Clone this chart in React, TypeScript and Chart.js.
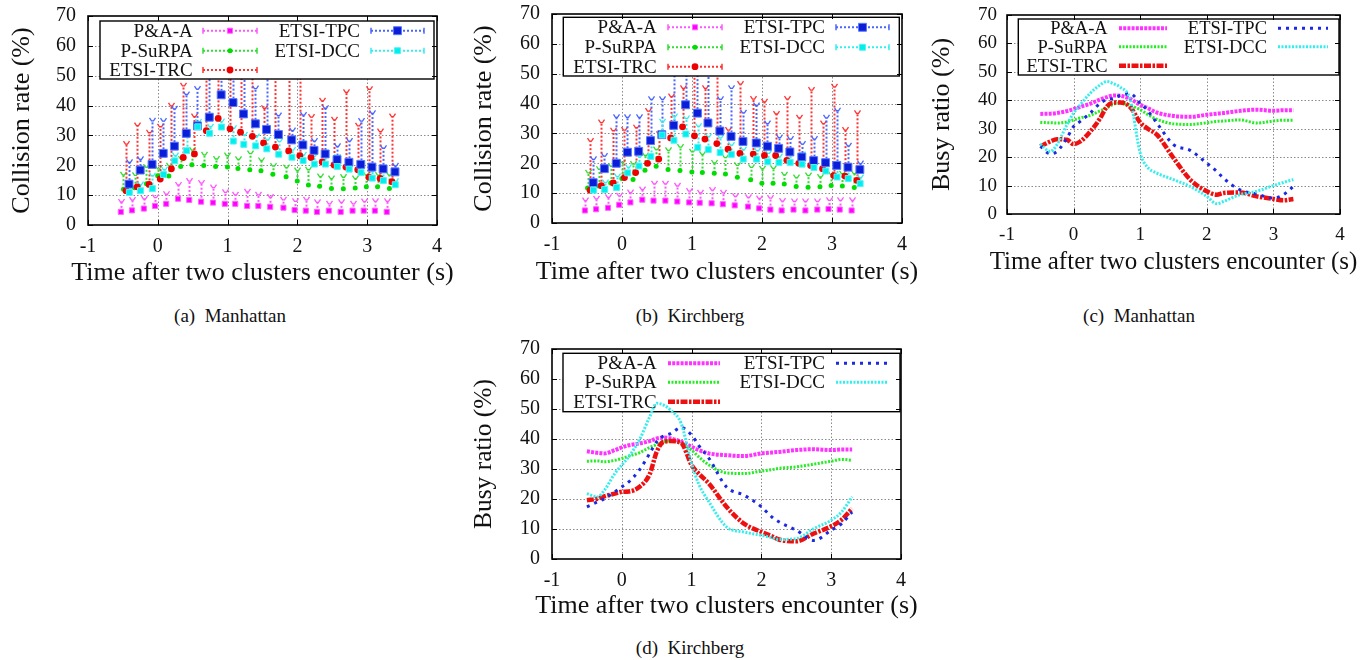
import React, { useEffect, useRef } from "react";
import { Chart, registerables } from "chart.js";

Chart.register(...registerables);

const SERIF = "'Liberation Serif', 'Times New Roman', Times, serif";

// ---------- text ----------
const SERIES_NAMES = ["P&A-A", "P-SuRPA", "ETSI-TRC", "ETSI-TPC", "ETSI-DCC"];
const X_TITLE = "Time after two clusters encounter (s)";
const Y_TITLE_COLLISION = "Collision rate (%)";
const Y_TITLE_BUSY = "Busy ratio (%)";
const CAPTIONS = ["(a)  Manhattan", "(b)  Kirchberg", "(c)  Manhattan", "(d)  Kirchberg"];

// ---------- axes ----------
const X_MIN = -1;
const X_MAX = 4;
const X_STEP = 1;
const Y_MIN = 0;
const Y_MAX = 70;
const Y_STEP = 10;

// ---------- collision-rate samples (panels a, b) ----------
const SAMPLE_TIMES = [
  -0.53, -0.37, -0.2, -0.04, 0.12, 0.29, 0.45, 0.62, 0.79, 0.96, 1.11, 1.28,
  1.44, 1.61, 1.8, 1.96, 2.12, 2.28, 2.45, 2.62, 2.79, 2.95, 3.11, 3.28,
];
const SERIES_SHIFT = [0, 0.038, 0.075, 0.118, 0.122];

// (a) Manhattan
const aPAA = [4.4, 4.9, 5.5, 6.4, 7.1, 8.8, 8.4, 7.8, 7.5, 7.1, 7.1, 6.4, 6.4, 6.1, 5.8, 5.0, 4.8, 4.4, 4.8, 4.4, 4.8, 4.8, 4.8, 4.4];
const aPAAHi = [7.7, 8.3, 8.7, 9.2, 10.3, 13.4, 14.7, 14.0, 12.5, 10.9, 10.1, 11.1, 10.1, 9.3, 8.4, 7.9, 8.4, 7.6, 7.1, 7.6, 7.1, 7.8, 7.9, 7.9];
const aSURPA = [12.0, 12.5, 13.8, 16.5, 16.4, 19.6, 20.2, 19.9, 19.6, 19.4, 18.9, 18.5, 18.2, 17.0, 16.2, 14.7, 13.4, 13.0, 12.2, 12.1, 12.4, 12.8, 12.8, 12.2];
const aSURPAHi = [16.8, 16.6, 19.4, 18.8, 19.8, 22.1, 25.1, 23.5, 22.1, 23.2, 22.0, 23.9, 21.6, 19.7, 19.2, 18.2, 18.5, 16.2, 15.5, 16.0, 15.5, 16.7, 16.7, 16.7];
const aTRC = [11.5, 12.8, 13.6, 15.4, 18.8, 22.6, 23.8, 31.6, 35.7, 32.2, 31.1, 29.7, 27.5, 26.1, 24.8, 23.2, 22.6, 21.1, 20.1, 19.4, 18.5, 16.0, 15.6, 14.5];
const aTRCHi = [27.1, 33.3, 30.9, 32.9, 39.9, 46.6, 36.3, 56, 56, 56, 56, 56, 39.1, 56, 56, 56, 36.1, 41.6, 35.2, 44.4, 33.2, 45.4, 31.3, 36.3];
const aTPC = [13.7, 18.4, 20.3, 24.0, 26.4, 30.7, 33.2, 36.1, 43.6, 41.0, 37.2, 33.9, 32.0, 30.3, 28.5, 26.8, 25.0, 23.8, 21.9, 21.0, 20.3, 19.4, 18.8, 17.8];
const aTPCHi = [21.0, 22.0, 34.9, 34.8, 38.9, 43.7, 45.5, 56, 56, 56, 56, 45.7, 56, 36.6, 31.6, 36.8, 28.1, 39.1, 26.3, 28.1, 34.8, 37.4, 25.7, 19.8];
const aDCC = [10.9, 11.5, 12.2, 16.9, 21.5, 24.9, 32.9, 30.7, 32.8, 28.1, 27.0, 26.5, 25.5, 23.7, 22.7, 21.6, 20.4, 20.4, 19.6, 18.7, 17.6, 15.7, 14.9, 13.5];
const aDCCHi = [12.7, 13.5, 16.5, 18.5, 23.2, 29.4, 34.5, 32.9, 34.6, 32.4, 30.2, 29.6, 28.5, 27.9, 25.1, 23.5, 23.1, 23.7, 22.7, 20.5, 19.8, 17.9, 18.5, 14.6];

// (b) Kirchberg
const bPAA = [4.2, 4.6, 5.1, 6.1, 6.9, 7.8, 7.5, 7.5, 7.2, 6.9, 6.8, 6.6, 6.3, 5.9, 5.5, 4.9, 4.5, 4.2, 4.5, 4.2, 4.5, 4.7, 4.5, 4.2];
const bPAAHi = [7.5, 8.1, 8.6, 9.1, 10.2, 11.2, 13.1, 13.1, 12.4, 10.7, 10.1, 11.0, 10.1, 8.9, 8.6, 8.2, 8.3, 7.3, 7.2, 7.2, 7.2, 7.6, 7.6, 7.6];
const bSURPA = [11.7, 12.4, 13.4, 14.9, 14.6, 17.7, 19.0, 17.9, 17.6, 17.1, 16.9, 16.7, 16.4, 15.3, 14.5, 13.3, 13.3, 13.1, 12.2, 12.0, 12.1, 12.6, 12.4, 11.9];
const bSURPAHi = [16.8, 18.0, 19.0, 20.2, 19.7, 22.6, 24.6, 24.3, 25.4, 23.8, 23.0, 20.1, 21.9, 19.3, 18.6, 18.1, 18.3, 16.1, 15.2, 15.9, 15.4, 16.2, 16.5, 16.5];
const bTRC = [11.0, 12.5, 13.4, 15.2, 16.9, 20.0, 21.4, 28.5, 32.2, 29.2, 28.1, 26.6, 24.7, 23.3, 23.1, 22.6, 22.6, 21.0, 20.0, 19.3, 18.2, 15.9, 15.7, 14.3];
const bTRCHi = [27.4, 33.6, 30.9, 31.1, 31.9, 37.5, 29.7, 42.3, 45.1, 56, 45.1, 56, 31.1, 46.5, 41.5, 40.6, 36.5, 41.5, 35.2, 44.5, 33.3, 45.6, 31.1, 36.7];
const bTPC = [13.5, 18.2, 20.0, 23.7, 24.0, 27.6, 29.6, 32.7, 39.6, 36.8, 33.5, 30.8, 29.0, 27.3, 26.8, 25.7, 25.0, 23.8, 22.1, 20.9, 20.2, 19.3, 18.7, 17.9];
const bTPCHi = [21.3, 22.4, 35.4, 35.4, 35.4, 41.4, 41.4, 56, 56, 56, 56, 41.4, 45.1, 36.9, 39.3, 33.3, 28.6, 28.1, 26.4, 28.1, 35.2, 37.6, 25.8, 19.9];
const bDCC = [11.0, 11.2, 11.9, 16.8, 19.1, 22.3, 29.5, 27.7, 29.8, 25.3, 24.6, 23.6, 23.0, 21.4, 21.4, 20.5, 20.3, 20.3, 19.7, 18.6, 17.4, 15.4, 14.9, 13.2];
const bDCCHi = [12.8, 13.5, 15.5, 18.6, 22.1, 27.2, 33.9, 35.6, 35.0, 32.4, 28.9, 28.5, 26.1, 24.6, 24.2, 23.3, 22.2, 22.9, 22.9, 20.5, 19.7, 18.2, 18.2, 15.2];

// ---------- busy-ratio curves (panels c, d) ----------
const LINE_TIMES = [
  -0.5, -0.35, -0.25, -0.1, 0, 0.1, 0.25, 0.4, 0.5, 0.6, 0.7, 0.85, 1.0,
  1.1, 1.25, 1.5, 1.75, 2.0, 2.15, 2.25, 2.5, 2.75, 3.0, 3.15, 3.3,
];

// (c) Manhattan
const cPAA = [35.2, 35.3, 35.5, 36.2, 36.9, 37.7, 38.8, 40.3, 41.1, 41.7, 41.6, 40.5, 38.4, 37.4, 35.7, 34.5, 34.2, 34.9, 35.3, 35.5, 36.3, 36.7, 36.3, 36.5, 36.5];
const cSURPA = [32.2, 32.1, 32.0, 32.4, 33.1, 33.8, 34.7, 36.3, 37.3, 38.6, 39.0, 38.2, 36.7, 35.2, 33.3, 31.7, 31.5, 32.1, 32.6, 32.7, 33.1, 32.0, 32.7, 33.0, 33.0];
const cTRC = [23.8, 25.5, 26.3, 26.1, 24.6, 25.5, 29.0, 33.7, 37.8, 39.2, 39.2, 37.6, 32.2, 30.2, 27.9, 19.7, 12.1, 8.0, 6.8, 7.4, 7.6, 6.2, 5.3, 4.8, 5.3];
const cTPC = [23.8, 21.2, 22.0, 26.7, 30.8, 32.6, 35.5, 39.0, 40.2, 40.7, 41.7, 42.3, 39.0, 36.7, 32.0, 24.4, 22.4, 17.9, 15.0, 12.6, 8.5, 7.0, 5.6, 6.8, 9.7];
const cDCC = [24.6, 22.0, 24.4, 31.4, 35.5, 38.4, 42.5, 45.4, 46.6, 45.8, 44.6, 40.2, 21.4, 16.7, 14.4, 12.1, 9.7, 6.2, 3.6, 4.4, 6.8, 8.0, 10.0, 11.1, 12.1];

// (d) Kirchberg
const dPAA = [35.9, 35.4, 35.2, 36.3, 37.2, 37.9, 38.5, 39.3, 40.2, 40.5, 40.2, 39.1, 37.4, 36.3, 35.2, 34.6, 34.3, 35.2, 35.5, 35.7, 36.3, 36.6, 36.3, 36.5, 36.5];
const dSURPA = [32.6, 32.7, 32.4, 32.9, 33.5, 34.3, 35.4, 37.2, 38.2, 39.1, 39.3, 38.5, 36.3, 34.1, 31.3, 28.7, 28.5, 29.3, 29.8, 30.2, 30.7, 31.6, 32.6, 33.2, 32.9];
const dTRC = [19.6, 20.1, 20.9, 21.8, 22.4, 22.5, 24.0, 28.3, 35.7, 39.1, 39.3, 38.7, 31.3, 28.5, 25.1, 17.4, 11.8, 9.0, 7.6, 6.5, 5.9, 8.5, 10.9, 13.1, 16.8];
const dTPC = [17.4, 19.0, 20.1, 22.4, 24.0, 25.7, 29.6, 35.2, 39.1, 41.0, 41.8, 43.8, 41.3, 37.9, 33.5, 24.0, 21.3, 17.4, 14.0, 12.4, 9.6, 6.2, 9.6, 11.8, 15.7];
const dDCC = [21.8, 20.7, 22.9, 28.5, 31.3, 34.1, 39.6, 47.4, 51.9, 51.3, 49.6, 45.2, 31.8, 25.1, 19.0, 10.7, 9.0, 7.9, 7.1, 6.5, 6.8, 10.1, 12.9, 15.7, 20.7];

// ---------- styles ----------
const MARKER_STYLES = [
  { color: "#ff00ff", edge: "#ff66ff", bar: "#ff55ff", shape: "rect", r: 3.6 },
  { color: "#00dd00", edge: "#00dd00", bar: "#33dd33", shape: "circle", r: 2.5 },
  { color: "#ee0000", edge: "#ee0000", bar: "#ff3333", shape: "circle", r: 3.4 },
  { color: "#0a1ed8", edge: "#5a78ff", bar: "#4a66ff", shape: "rect", r: 5.6 },
  { color: "#00eeee", edge: "#55f4f4", bar: "#33eeee", shape: "rect", r: 4.2 },
];
const LINE_STYLES = [
  { color: "#ff33ff", width: 4, dash: [3, 1.2] },
  { color: "#22ee22", width: 3, dash: [2, 1.5] },
  { color: "#ee1010", width: 4.5, dash: [7, 1.5, 2.5, 1.5] },
  { color: "#1a2ae0", width: 3, dash: [3, 5] },
  { color: "#33eeee", width: 3, dash: [2, 1.5] },
];

function collisionDatasets(values: number[][], uppers: number[][]) {
  return values.map((vals, i) => {
    const st = MARKER_STYLES[i];
    return {
      label: SERIES_NAMES[i],
      data: vals.map((v, k) => ({ x: SAMPLE_TIMES[k] + SERIES_SHIFT[i], y: v })),
      upper: uppers[i],
      barColor: st.bar,
      markerShape: st.shape,
      showLine: false,
      pointStyle: st.shape,
      pointRadius: st.r,
      pointHoverRadius: st.r,
      pointBackgroundColor: st.color,
      pointBorderColor: st.edge,
      pointBorderWidth: i === 3 || i === 4 || i === 0 ? 1 : 0,
      backgroundColor: st.color,
      borderColor: st.color,
      order: 4 - i,
    };
  });
}

function busyDatasets(values: number[][]) {
  return values.map((vals, i) => {
    const st = LINE_STYLES[i];
    return {
      label: SERIES_NAMES[i],
      data: vals.map((v, k) => ({ x: LINE_TIMES[k], y: v })),
      showLine: true,
      cubicInterpolationMode: "monotone",
      pointRadius: 0,
      pointHoverRadius: 0,
      borderColor: st.color,
      backgroundColor: st.color,
      borderWidth: st.width,
      borderDash: st.dash,
      borderCapStyle: "butt",
      fill: false,
      order: 4 - i,
    };
  });
}

// ---------- plugins ----------
const gridFramePlugin = {
  id: "gridFrame",
  beforeDatasetsDraw(chart: any) {
    const { ctx, chartArea: a, scales } = chart;
    ctx.save();
    ctx.strokeStyle = "#8a8a8a";
    ctx.lineWidth = 1;
    ctx.setLineDash([1.5, 2]);
    scales.x.ticks.forEach((t: any) => {
      if (t.value <= X_MIN || t.value >= X_MAX) return;
      const px = Math.round(scales.x.getPixelForValue(t.value)) + 0.5;
      ctx.beginPath();
      ctx.moveTo(px, a.top);
      ctx.lineTo(px, a.bottom);
      ctx.stroke();
    });
    scales.y.ticks.forEach((t: any) => {
      if (t.value <= Y_MIN || t.value >= Y_MAX) return;
      const py = Math.round(scales.y.getPixelForValue(t.value)) + 0.5;
      ctx.beginPath();
      ctx.moveTo(a.left, py);
      ctx.lineTo(a.right, py);
      ctx.stroke();
    });
    ctx.restore();
  },
  afterDraw(chart: any) {
    const { ctx, chartArea: a, scales } = chart;
    ctx.save();
    ctx.strokeStyle = "#000";
    ctx.lineWidth = 1;
    const tl = 5;
    scales.x.ticks.forEach((t: any) => {
      const px = Math.round(scales.x.getPixelForValue(t.value)) + 0.5;
      ctx.beginPath();
      ctx.moveTo(px, a.bottom);
      ctx.lineTo(px, a.bottom - tl);
      ctx.moveTo(px, a.top);
      ctx.lineTo(px, a.top + tl);
      ctx.stroke();
    });
    scales.y.ticks.forEach((t: any) => {
      const py = Math.round(scales.y.getPixelForValue(t.value)) + 0.5;
      ctx.beginPath();
      ctx.moveTo(a.left, py);
      ctx.lineTo(a.left + tl, py);
      ctx.moveTo(a.right, py);
      ctx.lineTo(a.right - tl, py);
      ctx.stroke();
    });
    ctx.lineWidth = 1.6;
    ctx.strokeRect(a.left, a.top, a.right - a.left, a.bottom - a.top);
    ctx.restore();
  },
};

const errorBarPlugin = {
  id: "errorBars",
  beforeDatasetsDraw(chart: any) {
    const { ctx, chartArea: a, scales } = chart;
    ctx.save();
    ctx.beginPath();
    ctx.rect(a.left, a.top, a.right - a.left, a.bottom - a.top);
    ctx.clip();
    chart.data.datasets.forEach((ds: any) => {
      if (!ds.upper) return;
      ctx.strokeStyle = ds.barColor;
      ds.data.forEach((p: any, k: number) => {
        const px = Math.round(scales.x.getPixelForValue(p.x)) + 0.5;
        const py = scales.y.getPixelForValue(p.y);
        const pu = scales.y.getPixelForValue(ds.upper[k]);
        ctx.lineWidth = 2;
        ctx.setLineDash([2, 2]);
        ctx.beginPath();
        ctx.moveTo(px, py);
        ctx.lineTo(px, pu);
        ctx.stroke();
        ctx.setLineDash([]);
        ctx.lineWidth = 1.3;
        ctx.beginPath();
        ctx.moveTo(px - 3, pu - 3);
        ctx.lineTo(px - 1, pu);
        ctx.lineTo(px + 1, pu);
        ctx.lineTo(px + 3, pu - 3);
        ctx.stroke();
      });
    });
    ctx.restore();
  },
};

type TitleSpec = { xSize: number; xY: number; ySize: number; yX: number; yText: string };

function makeTitlePlugin(t: TitleSpec) {
  return {
    id: "axisTitles",
    afterDraw(chart: any) {
      const { ctx, chartArea: a } = chart;
      ctx.save();
      ctx.fillStyle = "#111";
      ctx.textAlign = "center";
      ctx.textBaseline = "middle";
      ctx.font = `${t.xSize}px ${SERIF}`;
      ctx.fillText(X_TITLE, (a.left + a.right) / 2, t.xY);
      ctx.translate(t.yX, (a.top + a.bottom) / 2);
      ctx.rotate(-Math.PI / 2);
      ctx.font = `${t.ySize}px ${SERIF}`;
      ctx.fillText(t.yText, 0, 0);
      ctx.restore();
    },
  };
}

type LegendSpec = {
  box: [number, number, number, number];
  rows: number[];
  cols: { textRight: number; s0: number; s1: number }[];
  fontSize: number;
  kind: "marker" | "line";
  onTop: boolean;
};

function drawMarker(ctx: CanvasRenderingContext2D, ds: any, x: number, y: number) {
  const r = ds.pointRadius;
  ctx.fillStyle = ds.pointBackgroundColor;
  ctx.strokeStyle = ds.pointBorderColor;
  ctx.lineWidth = ds.pointBorderWidth;
  ctx.beginPath();
  if (ds.markerShape === "rect") {
    const s = r * Math.SQRT1_2;
    ctx.rect(x - s, y - s, 2 * s, 2 * s);
  } else {
    ctx.arc(x, y, r, 0, Math.PI * 2);
  }
  ctx.fill();
  if (ds.pointBorderWidth) ctx.stroke();
}

function makeLegendPlugin(spec: LegendSpec) {
  const draw = (chart: any) => {
    const { ctx } = chart;
    const [x0, y0, x1, y1] = spec.box;
    ctx.save();
    ctx.fillStyle = "#fff";
    ctx.fillRect(x0, y0, x1 - x0, y1 - y0);
    ctx.strokeStyle = "#000";
    ctx.lineWidth = 1.4;
    ctx.strokeRect(x0, y0, x1 - x0, y1 - y0);
    ctx.font = `${spec.fontSize}px ${SERIF}`;
    ctx.textAlign = "right";
    ctx.textBaseline = "middle";
    chart.data.datasets.forEach((ds: any, i: number) => {
      const col = i < 3 ? 0 : 1;
      const row = i < 3 ? i : i - 3;
      const c = spec.cols[col];
      const y = spec.rows[row];
      ctx.fillStyle = "#111";
      ctx.fillText(ds.label, c.textRight, y + 1);
      if (spec.kind === "marker") {
        ctx.strokeStyle = ds.barColor;
        ctx.lineWidth = 2;
        ctx.setLineDash([2, 2]);
        ctx.beginPath();
        ctx.moveTo(c.s0, y);
        ctx.lineTo(c.s1, y);
        ctx.stroke();
        ctx.setLineDash([]);
        ctx.lineWidth = 1.5;
        ctx.beginPath();
        ctx.moveTo(c.s0, y - 3);
        ctx.lineTo(c.s0, y + 3);
        ctx.moveTo(c.s1, y - 3);
        ctx.lineTo(c.s1, y + 3);
        ctx.stroke();
        drawMarker(ctx, ds, (c.s0 + c.s1) / 2, y);
      } else {
        ctx.strokeStyle = ds.borderColor;
        ctx.lineWidth = ds.borderWidth;
        ctx.setLineDash(ds.borderDash);
        ctx.beginPath();
        ctx.moveTo(c.s0, y);
        ctx.lineTo(c.s1, y);
        ctx.stroke();
        ctx.setLineDash([]);
      }
    });
    ctx.restore();
  };
  return spec.onTop
    ? { id: "gnuLegend", afterDatasetsDraw: draw }
    : { id: "gnuLegend", beforeDatasetsDraw: draw };
}

// ---------- panel ----------
type PanelProps = {
  left: number;
  top: number;
  width: number;
  height: number;
  area: { left: number; right: number; top: number; bottom: number };
  datasets: any[];
  tickSize: number;
  xTickPad: number;
  yTickPad: number;
  titles: TitleSpec;
  legend: LegendSpec;
  errorBars: boolean;
};

function Panel(p: PanelProps) {
  const ref = useRef<HTMLCanvasElement>(null);
  useEffect(() => {
    if (!ref.current) return;
    const plugins: any[] = [gridFramePlugin];
    if (p.errorBars) plugins.push(errorBarPlugin);
    plugins.push(makeLegendPlugin(p.legend));
    plugins.push(makeTitlePlugin(p.titles));
    const chart = new Chart(ref.current, {
      type: "scatter",
      data: { datasets: p.datasets },
      options: {
        animation: false,
        responsive: false,
        events: [],
        layout: { padding: { top: p.area.top, right: p.width - p.area.right, left: 0, bottom: 0 } },
        plugins: { legend: { display: false }, tooltip: { enabled: false } },
        scales: {
          x: {
            type: "linear",
            min: X_MIN,
            max: X_MAX,
            grid: { display: false, drawTicks: false },
            border: { display: false },
            ticks: {
              stepSize: X_STEP,
              font: { family: SERIF, size: p.tickSize },
              color: "#111",
              padding: p.xTickPad,
              maxRotation: 0,
              autoSkip: false,
            },
            title: { display: false },
            afterFit: (s: any) => {
              s.height = p.height - p.area.bottom;
              s.paddingLeft = 0;
              s.paddingRight = 0;
            },
          },
          y: {
            type: "linear",
            min: Y_MIN,
            max: Y_MAX,
            grid: { display: false, drawTicks: false },
            border: { display: false },
            ticks: {
              stepSize: Y_STEP,
              font: { family: SERIF, size: p.tickSize },
              color: "#111",
              padding: p.yTickPad,
            },
            title: { display: false },
            afterFit: (s: any) => {
              s.width = p.area.left;
              s.paddingTop = 0;
              s.paddingBottom = 0;
            },
          },
        },
      } as any,
      plugins,
    } as any);
    return () => chart.destroy();
  }, []);
  return (
    <div style={{ position: "absolute", left: p.left, top: p.top, width: p.width, height: p.height }}>
      <canvas ref={ref} width={p.width} height={p.height} style={{ display: "block" }} />
    </div>
  );
}

function Caption({ text, cx, cy }: { text: string; cx: number; cy: number }) {
  return (
    <div
      style={{
        position: "absolute",
        left: cx - 100,
        top: cy - 11,
        width: 200,
        height: 22,
        lineHeight: "22px",
        textAlign: "center",
        whiteSpace: "pre",
        fontFamily: SERIF,
        fontSize: 19,
        color: "#111",
      }}
    >
      {text}
    </div>
  );
}

export default function App() {
  const dsA = collisionDatasets([aPAA, aSURPA, aTRC, aTPC, aDCC], [aPAAHi, aSURPAHi, aTRCHi, aTPCHi, aDCCHi]);
  const dsB = collisionDatasets([bPAA, bSURPA, bTRC, bTPC, bDCC], [bPAAHi, bSURPAHi, bTRCHi, bTPCHi, bDCCHi]);
  const dsC = busyDatasets([cPAA, cSURPA, cTRC, cTPC, cDCC]);
  const dsD = busyDatasets([dPAA, dSURPA, dTRC, dTPC, dDCC]);

  return (
    <div style={{ position: "absolute", left: 0, top: 0, width: 1365, height: 660, background: "#fff", overflow: "hidden" }}>
      <Panel
        left={0}
        top={0}
        width={460}
        height={300}
        area={{ left: 88, right: 437, top: 16, bottom: 225 }}
        datasets={dsA}
        tickSize={20}
        xTickPad={10}
        yTickPad={12}
        titles={{ xSize: 26, xY: 273, ySize: 26, yX: 22, yText: Y_TITLE_COLLISION }}
        errorBars={true}
        legend={{
          box: [100, 21, 434, 79],
          rows: [30.7, 50.7, 70],
          cols: [
            { textRight: 192.7, s0: 203, s1: 257 },
            { textRight: 360, s0: 371, s1: 424 },
          ],
          fontSize: 19,
          kind: "marker",
          onTop: true,
        }}
      />
      <Panel
        left={464}
        top={0}
        width={460}
        height={300}
        area={{ left: 88, right: 438, top: 14, bottom: 223 }}
        datasets={dsB}
        tickSize={20}
        xTickPad={10}
        yTickPad={12}
        titles={{ xSize: 26, xY: 272, ySize: 26, yX: 20, yText: Y_TITLE_COLLISION }}
        errorBars={true}
        legend={{
          box: [99.3, 17.3, 435.3, 76],
          rows: [27.3, 47.3, 66.7],
          cols: [
            { textRight: 192.7, s0: 204, s1: 258 },
            { textRight: 361, s0: 372, s1: 425 },
          ],
          fontSize: 19,
          kind: "marker",
          onTop: true,
        }}
      />
      <Panel
        left={920}
        top={0}
        width={445}
        height={300}
        area={{ left: 87, right: 420, top: 15, bottom: 214 }}
        datasets={dsC}
        tickSize={19}
        xTickPad={10}
        yTickPad={10}
        titles={{ xSize: 25, xY: 262, ySize: 26, yX: 22, yText: Y_TITLE_BUSY }}
        errorBars={false}
        legend={{
          box: [98.3, 19, 419, 75],
          rows: [28.3, 46.7, 65.7],
          cols: [
            { textRight: 187.7, s0: 199, s1: 247 },
            { textRight: 347, s0: 358, s1: 408 },
          ],
          fontSize: 18.5,
          kind: "line",
          onTop: true,
        }}
      />
      <Panel
        left={464}
        top={330}
        width={460}
        height={300}
        area={{ left: 88, right: 437, top: 19, bottom: 229 }}
        datasets={dsD}
        tickSize={20}
        xTickPad={10}
        yTickPad={12}
        titles={{ xSize: 26, xY: 276, ySize: 25.5, yX: 20, yText: Y_TITLE_BUSY }}
        errorBars={false}
        legend={{
          box: [99, 23.3, 436, 81.7],
          rows: [33.3, 52.3, 71.7],
          cols: [
            { textRight: 192.7, s0: 204, s1: 256 },
            { textRight: 361, s0: 372, s1: 424 },
          ],
          fontSize: 19,
          kind: "line",
          onTop: false,
        }}
      />
      <Caption text={CAPTIONS[0]} cx={230} cy={316} />
      <Caption text={CAPTIONS[1]} cx={690} cy={316} />
      <Caption text={CAPTIONS[2]} cx={1139} cy={316} />
      <Caption text={CAPTIONS[3]} cx={690} cy={648} />
    </div>
  );
}
